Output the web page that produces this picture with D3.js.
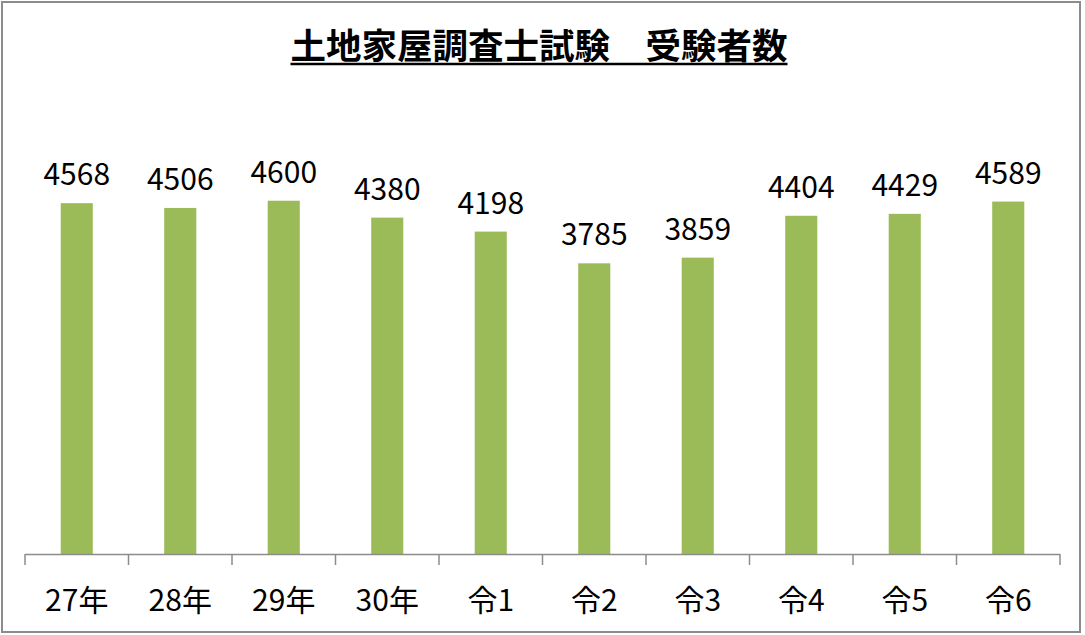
<!DOCTYPE html>
<html>
<head>
<meta charset="utf-8">
<script src="https://cdn.jsdelivr.net/npm/d3@7"></script>
<style>
  body { margin: 0; background: #fff; }
  text { font-family: "Noto Sans CJK JP", "Noto Sans", sans-serif; fill: #000; }
</style>
</head>
<body>
<div id="vis1"></div>
<script>
const frame_height = 635;
const frame_width = 1085;
const margins = {left: 25, right: 25, top: 170, bottom: 81};

const title = "土地家屋調査士試験　受験者数";
const categories = ["27年", "28年", "29年", "30年", "令1", "令2", "令3", "令4", "令5", "令6"];
const examinees = [4568, 4506, 4600, 4380, 4198, 3785, 3859, 4404, 4429, 4589];
const y_max = 5000;

const data = categories.map((c, i) => ({category: c, value: examinees[i]}));

const frame1 =
d3.select("#vis1")
    .append("svg")
        .attr("height", frame_height)
        .attr("width", frame_width);

// chart border
frame1.append("rect")
    .attr("x", 2)
    .attr("y", 2)
    .attr("width", 1078)
    .attr("height", 630)
    .attr("fill", "#fff")
    .attr("stroke", "#8c8c8c")
    .attr("stroke-width", 2);

const y_scale =
d3.scaleLinear()
    .domain([0, y_max])
    .range([(frame_height - margins.bottom), margins.top]);
const x_scale =
d3.scaleBand()
    .domain(categories)
    .range([margins.left, frame_width - margins.right])
    .paddingInner(0.69)
    .paddingOuter(0.345);

frame1.selectAll(".bar")
    .data(data)
    .enter()
    .append("rect")
        .attr("class", "bar")
        .attr("x", (d) => x_scale(d.category))
        .attr("y", (d) => y_scale(d.value))
        .attr("width", x_scale.bandwidth())
        .attr("height", (d) => y_scale(0) - y_scale(d.value))
        .attr("fill", "#9bbb59");

frame1.selectAll(".val")
    .data(data)
    .enter()
    .append("text")
        .attr("class", "val")
        .attr("x", (d) => x_scale(d.category) + x_scale.bandwidth() / 2)
        .attr("y", (d) => y_scale(d.value) - 18)
        .attr("text-anchor", "middle")
        .attr("font-size", "30px")
        .text((d) => d.value);

// x axis with ticks between categories
const band_step = x_scale.step();
const x_axis = frame1.append("g")
    .attr("transform", "translate(0," + y_scale(0) + ")");
const x0 = x_scale(categories[0]) - x_scale.paddingOuter() * band_step;
const x1 = x0 + band_step * categories.length;
x_axis.append("line")
    .attr("x1", x0).attr("x2", x1)
    .attr("y1", 0.5).attr("y2", 0.5)
    .attr("stroke", "#8c8c8c")
    .attr("stroke-width", 1.5);
x_axis.selectAll(".tick")
    .data(d3.range(categories.length + 1))
    .enter()
    .append("line")
        .attr("x1", (i) => x0 + i * band_step)
        .attr("x2", (i) => x0 + i * band_step)
        .attr("y1", 0)
        .attr("y2", 11)
        .attr("stroke", "#8c8c8c")
        .attr("stroke-width", 1.5);
x_axis.selectAll(".cat")
    .data(categories)
    .enter()
    .append("text")
        .attr("x", (d) => x_scale(d) + x_scale.bandwidth() / 2)
        .attr("y", 57)
        .attr("text-anchor", "middle")
        .attr("font-size", "30px")
        .text((d) => d);

// title
const t = frame1.append("text")
    .attr("x", 539)
    .attr("y", 59)
    .attr("text-anchor", "middle")
    .attr("font-size", "35.5px")
    .attr("font-weight", "bold")
    .text(title);
const tb = t.node().getBBox();
frame1.append("line")
    .attr("x1", tb.x).attr("x2", tb.x + tb.width)
    .attr("y1", 64).attr("y2", 64)
    .attr("stroke", "#000")
    .attr("stroke-width", 2.5);
</script>
</body>
</html>
